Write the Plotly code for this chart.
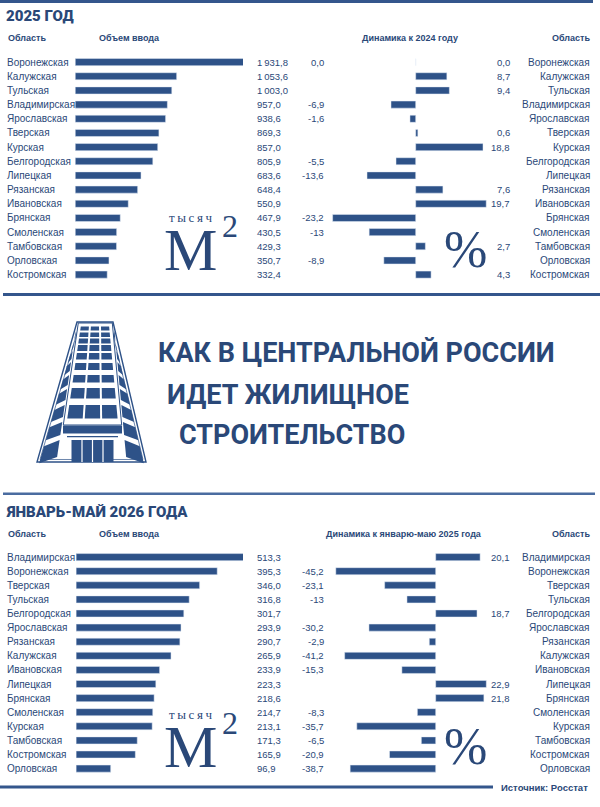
import plotly.graph_objects as go

# 2025 год
top_regions = ["Воронежская", "Калужская", "Тульская", "Владимирская", "Ярославская",
               "Тверская", "Курская", "Белгородская", "Липецкая", "Рязанская",
               "Ивановская", "Брянская", "Смоленская", "Тамбовская", "Орловская",
               "Костромская"]
top_volume = [1931.8, 1053.6, 1003.0, 957.0, 938.6, 869.3, 857.0, 805.9, 683.6,
              648.4, 550.9, 467.9, 430.5, 429.3, 350.7, 332.4]
top_dyn = [0.0, 8.7, 9.4, -6.9, -1.6, 0.6, 18.8, -5.5, -13.6, 7.6, 19.7, -23.2,
           -13, 2.7, -8.9, 4.3]

# январь-май 2026 года
bot_regions = ["Владимирская", "Воронежская", "Тверская", "Тульская", "Белгородская",
               "Ярославская", "Рязанская", "Калужская", "Ивановская", "Липецкая",
               "Брянская", "Смоленская", "Курская", "Тамбовская", "Костромская",
               "Орловская"]
bot_volume = [513.3, 395.3, 346.0, 316.8, 301.7, 293.9, 290.7, 265.9, 233.9, 223.3,
              218.6, 214.7, 213.1, 171.3, 165.9, 96.9]
bot_dyn = [20.1, -45.2, -23.1, -13, 18.7, -30.2, -2.9, -41.2, -15.3, 22.9, 21.8,
           -8.3, -35.7, -6.5, -20.9, -38.7]

W, H = 600, 807
BAR = "#2e5288"
TXT = "#2a4878"
LINE = "#34568c"
SANS = "Liberation Sans, Arial, sans-serif"
HEAD = "Roboto, Liberation Sans, sans-serif"
SERIF = "Liberation Serif, DejaVu Serif, serif"


def px(x):
    return x / W


def py(y):
    return 1 - y / H


def fmt_vol(v):
    return f"{v:,.1f}".replace(",", "\u2009").replace(".", ",")


def fmt_dyn(v):
    # в источнике -13 без десятичного знака
    if v == int(v) and v != 0:
        return str(int(v))
    return f"{v:.1f}".replace(".", ",")


fig = go.Figure()
fig.add_bar(x=top_volume, y=top_regions, orientation="h", marker_color=BAR,
            xaxis="x", yaxis="y", hoverinfo="skip")
fig.add_bar(x=top_dyn, y=top_regions, orientation="h", marker_color=BAR,
            xaxis="x2", yaxis="y", hoverinfo="skip")
fig.add_bar(x=bot_volume, y=bot_regions, orientation="h", marker_color=BAR,
            xaxis="x3", yaxis="y2", hoverinfo="skip")
fig.add_bar(x=bot_dyn, y=bot_regions, orientation="h", marker_color=BAR,
            xaxis="x4", yaxis="y2", hoverinfo="skip")

hidden = dict(showgrid=False, zeroline=False, showticklabels=False,
              showline=False, ticks="", fixedrange=True)

annotations = []


def note(text, x, y, xanchor="left", size=10, bold=False, family=SANS,
         yref="paper", color=TXT, weight=None):
    annotations.append(dict(
        text=text, x=px(x), y=(y if yref != "paper" else py(y)),
        xref="paper", yref=yref, xanchor=xanchor, yanchor="middle",
        showarrow=False,
        font=dict(family=family, size=size, color=color,
                  weight=weight or ("bold" if bold else "normal"))))


def section(regions, volume, dyn, yref, neg_x, pos_x):
    for r, v, d in zip(regions, volume, dyn):
        note(r, 5, r, yref=yref, size=10)
        note(fmt_vol(v), 255, r, yref=yref, size=9.5)
        if d <= 0:
            note(fmt_dyn(d), neg_x, r, xanchor="right", yref=yref, size=9.5)
        if d >= 0:
            note(fmt_dyn(d), pos_x, r, xanchor="right", yref=yref, size=9.5)
        note(r, 592, r, xanchor="right", yref=yref, size=10)


section(top_regions, top_volume, top_dyn, "y", 326, 512)
section(bot_regions, bot_volume, bot_dyn, "y2", 326, 512)

# заголовки
note("2025 ГОД", 4, 16, size=15, family=HEAD, weight=900)
note("Область", 6, 38, size=9, bold=True)
note("Объем ввода", 97, 38, size=9, bold=True)
note("Динамика к 2024 году", 410, 38, xanchor="center", size=9, bold=True)
note("Область", 592, 38, xanchor="right", size=9, bold=True)

note("ЯНВАРЬ-МАЙ 2026 ГОДА", 4, 512, size=15, family=HEAD, weight=900)
note("Область", 6, 534, size=9, bold=True)
note("Объем ввода", 97, 534, size=9, bold=True)
note("Динамика к январю-маю 2025 года", 404, 534, xanchor="center", size=9, bold=True)
note("Область", 592, 534, xanchor="right", size=9, bold=True)

note("Источник: Росстат", 590, 787, xanchor="right", size=9.5, bold=True)

# единицы
for yy in (0, 497):
    note("т\u2009ы\u2009с\u2009я\u2009ч", 191, 217 + yy, xanchor="center", size=13,
         family=SERIF)
    note("М", 190.5, 250 + yy, xanchor="center", size=60, family=SERIF)
    note("2", 229.5, 226 + yy, xanchor="center", size=32, family=SERIF)
    note("%", 466, 249 + yy, xanchor="center", size=52, family=SERIF)

# название
note("КАК В ЦЕНТРАЛЬНОЙ РОССИИ", 156, 353, size=27, bold=True, family=HEAD)
note("ИДЕТ ЖИЛИЩНОЕ", 165, 395, size=27, bold=True, family=HEAD)
note("СТРОИТЕЛЬСТВО", 177, 435, size=27, bold=True, family=HEAD)

shapes = []


def rect(x0, y0, x1, y1, color=LINE):
    shapes.append(dict(type="rect", xref="paper", yref="paper",
                       x0=px(x0), x1=px(x1), y0=py(y0), y1=py(y1),
                       fillcolor=color, line=dict(width=0), layer="above"))


def poly(points, fill=BAR, line_color=None, width=0):
    d = "M " + " L ".join(f"{px(x):.5f},{py(y):.5f}" for x, y in points) + " Z"
    shapes.append(dict(type="path", path=d, xref="paper", yref="paper",
                       fillcolor=fill, layer="above",
                       line=dict(color=line_color or fill, width=width)))


rect(0, 0, 593, 3)
rect(3, 293, 600, 296)
rect(3, 492.5, 595, 495, "#4a6ca0")
rect(0, 785.5, 493, 788.5)

# здание
poly([(77, 322), (113, 322), (146, 462), (37, 462)], "white", BAR, 1.4)
poly([(79.5, 324.5), (110.5, 324.5), (143, 459.5), (40, 459.5)], "white", BAR, 0.7)


def cl(y):
    return 78.3 - 0.147 * (y - 323)


def cr(y):
    return 112.3 + 0.092 * (y - 323)


def ol(y):
    return 77 - 0.2857 * (y - 322)


def orr(y):
    return 113 + 0.2357 * (y - 322)


poly([(cl(323), 323), (cr(323), 323), (cr(425), 425), (cl(425), 425)], "white", BAR, 1)

rows = [(326.5, 330.5), (332.5, 337), (338.5, 343.5), (345, 351), (353, 359.5),
        (363, 370), (375, 382.5), (388, 398.5), (405, 418.5)]
for y0, y1 in rows:
    l0, r0 = cl(y0) + 3, cr(y0) - 3.5
    l1, r1 = cl(y1) + 3, cr(y1) - 3.5
    w0 = (r0 - l0 - 4) / 3
    w1 = (r1 - l1 - 4) / 3
    for k in range(3):
        a0 = l0 + k * (w0 + 2)
        a1 = l1 + k * (w1 + 2)
        poly([(a0, y0), (a0 + w0, y0), (a1 + w1, y1), (a1, y1)])

wing = [(331, 338), (341, 348), (351, 359), (362, 371), (375, 385), (389, 400),
        (405, 417), (422, 435), (440, 457)]
for y0, y1 in wing:
    s = 2 + (y1 - y0) * 0.25
    poly([(cl(y0) - 1.5, y0), (cl(y1) - 1.5, y1), (ol(y1 + s) + 2.5, y1 + s),
          (ol(y0 + s) + 2.5, y0 + s)])
    poly([(cr(y0) + 1.5, y0), (cr(y1) + 1.5, y1), (orr(y1 + s) - 2.5, y1 + s),
          (orr(y0 + s) - 2.5, y0 + s)])

rect(63, 425.5, 122, 433.5, BAR)
rect(67, 436, 118, 437.2, BAR)
rect(71.5, 440, 113.5, 462, BAR)
for k in range(1, 4):
    x = 71.5 + k * 42 / 4
    rect(x - 0.6, 440, x + 0.6, 462, "white")

vol_px = 0.0963  # пикселей на тыс. м2 (2025)
vol_px2 = 0.357
fig.update_layout(
    width=W, height=H, margin=dict(l=0, r=0, t=0, b=0),
    paper_bgcolor="white", plot_bgcolor="rgba(0,0,0,0)",
    showlegend=False, bargap=0.5,
    xaxis=dict(hidden, domain=[px(75.2), px(243)], range=[0, (243 - 75.2) / vol_px],
               anchor="y"),
    xaxis2=dict(hidden, domain=[px(330), px(520)],
                range=[(330 - 415.7) / 3.58, (520 - 415.7) / 3.58], anchor="y"),
    xaxis3=dict(hidden, domain=[px(76.1), px(243)], range=[0, (243 - 76.1) / vol_px2],
                anchor="y2"),
    xaxis4=dict(hidden, domain=[px(330), px(520)],
                range=[(330 - 435.7) / 2.21, (520 - 435.7) / 2.21], anchor="y2"),
    yaxis=dict(hidden, type="category", autorange="reversed",
               domain=[py(282.1), py(54.6)]),
    yaxis2=dict(hidden, type="category", autorange="reversed",
                domain=[py(776.1), py(549.6)]),
    annotations=annotations, shapes=shapes,
)

fig.write_html("out.html", config={"displayModeBar": False},
               post_script="document.body.style.margin='0';")
